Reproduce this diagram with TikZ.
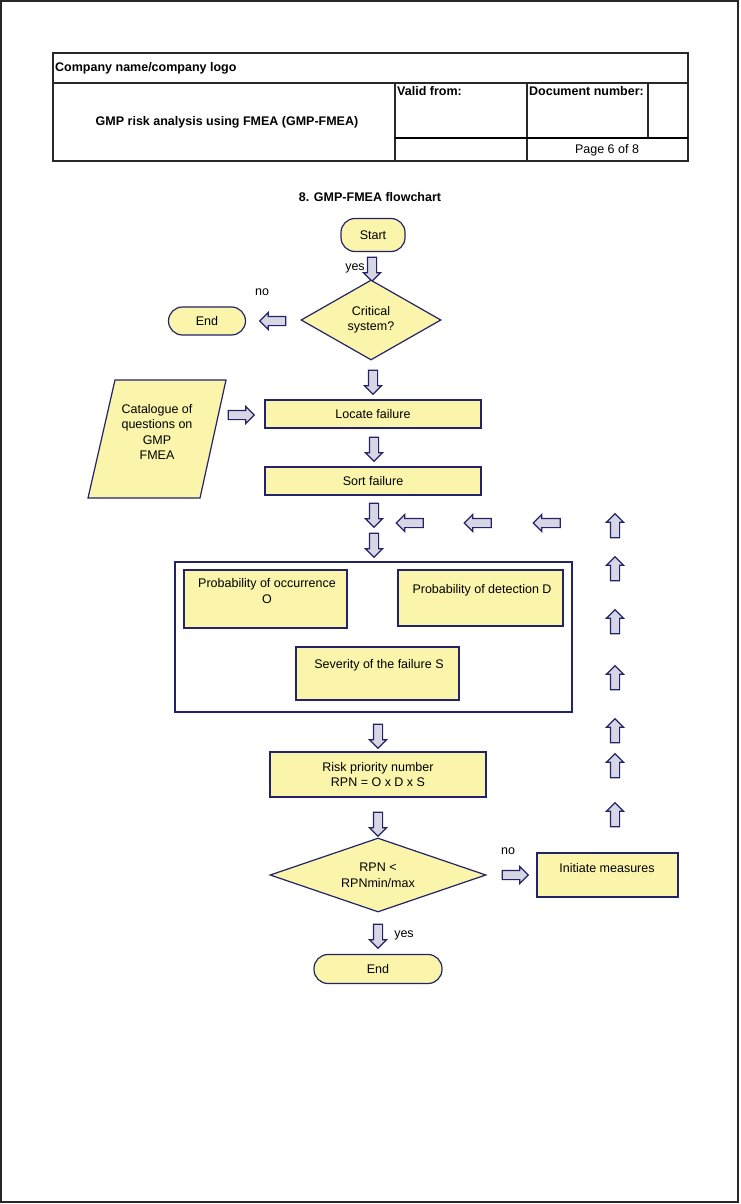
\documentclass[tikz,border=0pt]{standalone}
\usepackage{fontspec}
\setmainfont{Liberation Sans}
\usetikzlibrary{shapes.geometric,shapes.arrows}
\definecolor{boxfill}{RGB}{250,245,170}
\definecolor{navy}{RGB}{35,35,105}
\definecolor{arrfill}{RGB}{214,214,228}
\definecolor{tbl}{RGB}{40,40,40}
\tikzset{
  txt/.style={font=\fontsize{12.5}{15.5}\selectfont, inner sep=0pt, align=center},
  btxt/.style={font=\fontsize{12.5}{15.5}\selectfont\bfseries, inner sep=0pt},
  ybox/.style={draw=navy, fill=boxfill, line width=1.2pt, inner sep=0pt},
  term/.style={ybox, rounded corners=14pt, font=\fontsize{12.5}{15.5}\selectfont},
  decision/.style={ybox, diamond, font=\fontsize{12.5}{15.5}\selectfont, align=center},
  barrow/.style={single arrow, draw=navy, fill=arrfill, line width=1.2pt,
    inner sep=0pt, inner ysep=4pt, single arrow head extend=4pt,
    single arrow tip angle=90, minimum height=24pt}
}
\begin{document}
\begin{tikzpicture}[x=1pt,y=-1pt]
\useasboundingbox (0,0) rectangle (740,1204);
% page frame
\draw[tbl, line width=1.6pt] (1,1) rectangle (738,1202);
% header table
\draw[tbl, line width=1.2pt] (53,53) rectangle (688,161);
\draw[tbl, line width=1.2pt] (53,83) -- (688,83);
\draw[tbl, line width=1.2pt] (395,83) -- (395,161);
\draw[tbl, line width=1.2pt] (527,83) -- (527,161);
\draw[tbl, line width=1.2pt] (648,83) -- (648,138);
\draw[black, line width=2pt] (395,138) -- (688,138);
\node[btxt, anchor=west] (company) at (55,68) {Company name/company logo};
\node[btxt] (title) at (227,122) {GMP risk analysis using FMEA (GMP-FMEA)};
\node[btxt, anchor=west] (valid) at (397,91) {Valid from:};
\node[btxt, anchor=west] (docno) at (529,91) {Document number:};
\node[txt] (page) at (607,150) {Page 6 of 8};
% chart heading
\node[btxt] (heading) at (370,197) {8. GMP-FMEA flowchart};
% flow
\node[term, minimum width=64pt, minimum height=33pt] (start) at (373,235) {Start};
\node[barrow, rotate=-90] (a1) at (372,267) {};
\node[txt] (yes1) at (355,268) {yes};
\node[decision, aspect=1.75, minimum width=140pt, minimum height=80pt] (crit) at (371,320) {Critical\\system?};
\node[txt] (no1) at (262,292) {no};
\node[barrow, rotate=180, minimum height=26pt] (a2) at (275,321) {};
\node[term, minimum width=77pt, minimum height=28pt] (end1) at (207,321) {End};
\node[barrow, rotate=-90] (a3) at (373,380) {};
\node[ybox, minimum width=216pt, minimum height=28pt, txt] (locate) at (373,414) {Locate failure};
\draw[draw=navy, fill=boxfill, line width=1.2pt] (115,380) -- (226,380) -- (200,498) -- (88,498) -- cycle;
\node[txt] (catalogue) at (157,432) {Catalogue of\\questions on\\GMP\\FMEA};
\node[barrow, minimum height=26pt] (a4) at (239,415) {};
\node[barrow, rotate=-90] (a5) at (374,447) {};
\node[ybox, minimum width=216pt, minimum height=28pt, txt] (sort) at (373,481) {Sort failure};
\node[barrow, rotate=-90] (a6) at (374,513) {};
\node[barrow, rotate=180, minimum height=27pt] (l1) at (412,523) {};
\node[barrow, rotate=180, minimum height=27pt] (l2) at (480,523) {};
\node[barrow, rotate=180, minimum height=27pt] (l3) at (549,523) {};
\foreach \yy/\nm in {528/u1,571/u2,624/u3,680/u4,733/u5,768/u6,817/u7}
  \node[barrow, rotate=90] (\nm) at (615,\yy) {};
\node[barrow, rotate=-90] (a7) at (374,543) {};
% evaluation group
\node[draw=navy, fill=white, line width=1.2pt, minimum width=397pt, minimum height=150pt, inner sep=0pt] (group) at (373.5,637) {};
\node[ybox, minimum width=163pt, minimum height=58pt] (occ) at (265.5,599) {};
\node[txt] (occt) at (267,591) {Probability of occurrence\\O};
\node[ybox, minimum width=165pt, minimum height=56pt] (det) at (480.5,598) {};
\node[txt] (dett) at (482,590) {Probability of detection D};
\node[ybox, minimum width=163pt, minimum height=53pt] (sev) at (377.5,673.5) {};
\node[txt] (sevt) at (379,665) {Severity of the failure S};
\node[barrow, rotate=-90] (a8) at (378,734) {};
\node[ybox, minimum width=216pt, minimum height=45pt, txt] (rpn) at (378,774.5) {Risk priority number\\RPN = O x D x S};
\node[barrow, rotate=-90] (a9) at (378,822) {};
\node[decision, aspect=2.92, minimum width=216pt, minimum height=74pt, inner sep=0pt] (dec) at (378,875) {RPN <\\RPNmin/max};
\node[txt] (no2) at (508,851) {no};
\node[barrow, minimum height=26pt] (a10) at (513,875) {};
\node[ybox, minimum width=141pt, minimum height=44pt] (init) at (607.5,875) {};
\node[txt] (initt) at (607,868) {Initiate measures};
\node[barrow, rotate=-90] (a11) at (378,934) {};
\node[txt] (yes2) at (404,935) {yes};
\node[term, minimum width=128pt, minimum height=29pt] (end2) at (378,969) {End};
\end{tikzpicture}
\end{document}
